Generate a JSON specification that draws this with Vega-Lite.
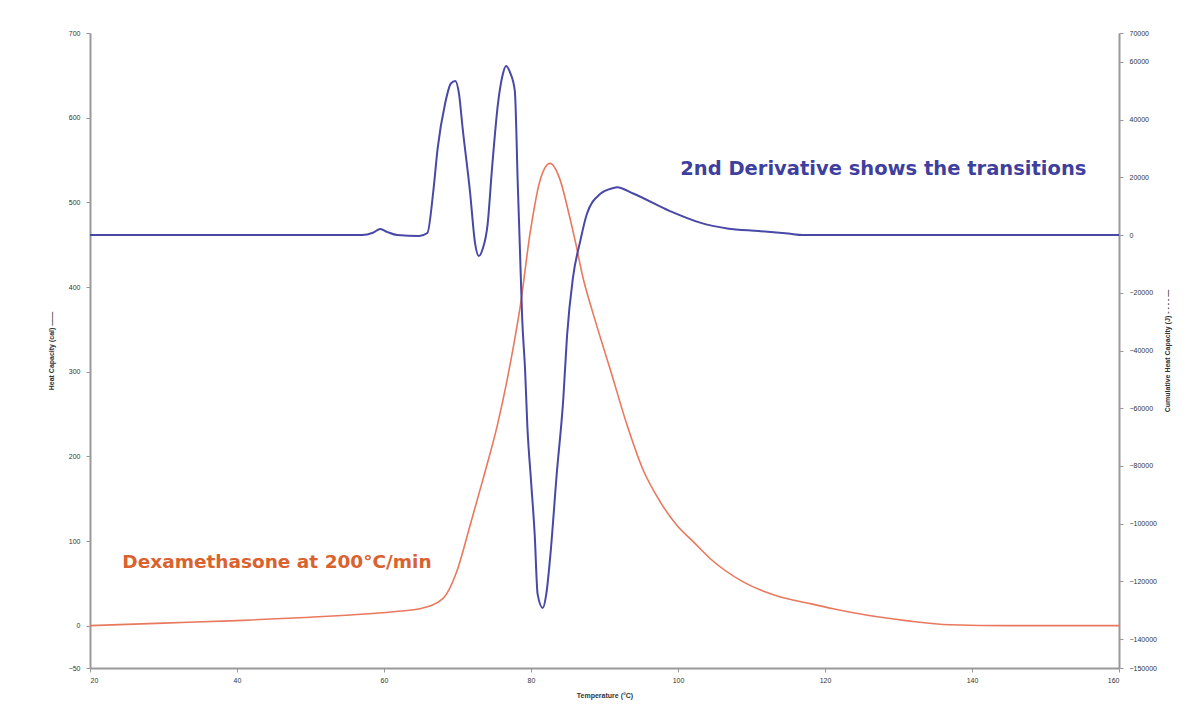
{
  "$schema": "https://vega.github.io/schema/vega-lite/v6.json",
  "width": 1029,
  "height": 635,
  "autosize": {"type": "none"},
  "padding": {"left": 90, "top": 33, "right": 82, "bottom": 43},
  "background": "white",
  "config": {
    "font": "Liberation Sans",
    "view": {"stroke": null},
    "axis": {
      "grid": false,
      "labelFontSize": 7,
      "labelColor": "#333333",
      "domainColor": "#999999",
      "domainWidth": 2,
      "tickColor": "#999999",
      "tickSize": 4,
      "titleFontSize": 7,
      "titleFontWeight": "bold",
      "titleColor": "#333333"
    }
  },
  "datasets": {
    "heat": [
      {"t": 20, "v": 0}, {"t": 30, "v": 3}, {"t": 40, "v": 6}, {"t": 50, "v": 10},
      {"t": 58, "v": 14}, {"t": 62, "v": 17}, {"t": 64.9, "v": 20}, {"t": 68.0, "v": 32},
      {"t": 69.9, "v": 64}, {"t": 71.7, "v": 118}, {"t": 73.5, "v": 174}, {"t": 75.4, "v": 236},
      {"t": 76.7, "v": 288}, {"t": 77.8, "v": 339}, {"t": 78.5, "v": 375}, {"t": 79.9, "v": 465},
      {"t": 81.2, "v": 525}, {"t": 82.6, "v": 546}, {"t": 83.9, "v": 528}, {"t": 85.2, "v": 485},
      {"t": 86.0, "v": 455}, {"t": 87.1, "v": 410}, {"t": 88.4, "v": 370}, {"t": 89.8, "v": 330},
      {"t": 90.7, "v": 305}, {"t": 93.1, "v": 236},
      {"t": 95.2, "v": 185}, {"t": 97.6, "v": 146}, {"t": 99.9, "v": 118}, {"t": 102.1, "v": 99},
      {"t": 104.4, "v": 79}, {"t": 108.8, "v": 52}, {"t": 113.5, "v": 35}, {"t": 118.0, "v": 26},
      {"t": 121.1, "v": 20}, {"t": 126, "v": 12}, {"t": 131, "v": 6}, {"t": 137, "v": 1},
      {"t": 145, "v": 0}, {"t": 160, "v": 0}
    ],
    "deriv": [
      {"t": 20, "d": 0}, {"t": 40, "d": 0}, {"t": 57, "d": 0}, {"t": 58.5, "d": 800},
      {"t": 59.5, "d": 2100}, {"t": 60.5, "d": 1000}, {"t": 61.8, "d": 0}, {"t": 64.8, "d": -300},
      {"t": 65.9, "d": 700}, {"t": 66.7, "d": 15000}, {"t": 67.3, "d": 30000}, {"t": 68.3, "d": 45400},
      {"t": 69.1, "d": 52500}, {"t": 69.7, "d": 53400}, {"t": 70.2, "d": 49000}, {"t": 70.7, "d": 37000},
      {"t": 71.7, "d": 15000}, {"t": 72.4, "d": -3000}, {"t": 72.9, "d": -7300}, {"t": 73.4, "d": -5000},
      {"t": 74.1, "d": 3800}, {"t": 74.7, "d": 23200}, {"t": 75.5, "d": 45400}, {"t": 76.1, "d": 55000},
      {"t": 76.6, "d": 58600}, {"t": 77.2, "d": 56000}, {"t": 77.8, "d": 49900}, {"t": 78.2, "d": 17700},
      {"t": 78.5, "d": -5500}, {"t": 78.8, "d": -28800}, {"t": 79.2, "d": -47000}, {"t": 79.5, "d": -66000},
      {"t": 80.0, "d": -85000}, {"t": 80.5, "d": -103600}, {"t": 80.9, "d": -124400}, {"t": 81.6, "d": -129200},
      {"t": 82.1, "d": -124000}, {"t": 82.6, "d": -111900}, {"t": 83.5, "d": -82800}, {"t": 84.4, "d": -56500},
      {"t": 84.9, "d": -35000}, {"t": 85.7, "d": -14900}, {"t": 86.7, "d": -2100}, {"t": 87.6, "d": 7300},
      {"t": 89.4, "d": 14200}, {"t": 91.2, "d": 16300}, {"t": 91.7, "d": 16600}, {"t": 93.9, "d": 14400},
      {"t": 98.9, "d": 8300}, {"t": 103, "d": 4300}, {"t": 106.7, "d": 2300}, {"t": 111, "d": 1400},
      {"t": 115, "d": 500}, {"t": 117, "d": 0}, {"t": 160, "d": 0}
    ],
    "noteHeat": [{"t": 24.4, "v": 75, "label": "Dexamethasone at 200°C/min"}],
    "noteDeriv": [{"t": 100.3, "d": 22800, "label": "2nd Derivative shows the transitions"}]
  },
  "layer": [
    {
      "layer": [
        {
          "data": {"name": "heat"},
          "mark": {"type": "line", "color": "#e8795e", "strokeWidth": 1.6, "interpolate": "monotone"},
          "encoding": {
            "x": {"field": "t", "type": "quantitative", "scale": {"domain": [20, 160], "nice": false},
                  "axis": {"values": [20, 40, 60, 80, 100, 120, 140, 160], "title": "Temperature (°C)", "titlePadding": 8, "labelPadding": 4}},
            "y": {"field": "v", "type": "quantitative", "scale": {"domain": [-50, 700], "nice": false, "zero": false},
                  "axis": {"orient": "left", "values": [-50, 0, 100, 200, 300, 400, 500, 600, 700], "title": "Heat Capacity (cal) ——", "titlePadding": 14, "labelPadding": 6}}
          }
        },
        {
          "data": {"name": "noteHeat"},
          "mark": {"type": "text", "align": "left", "baseline": "middle", "font": "DejaVu Sans", "fontSize": 18.5, "fontWeight": "bold", "color": "#d9622e"},
          "encoding": {
            "x": {"field": "t", "type": "quantitative"},
            "y": {"field": "v", "type": "quantitative"},
            "text": {"field": "label"}
          }
        }
      ]
    },
    {
      "layer": [
        {
          "data": {"name": "deriv"},
          "mark": {"type": "line", "color": "#4848a6", "strokeWidth": 2, "interpolate": "monotone"},
          "encoding": {
            "x": {"field": "t", "type": "quantitative"},
            "y": {"field": "d", "type": "quantitative", "scale": {"domain": [-150000, 70000], "nice": false, "zero": false},
                  "axis": {"orient": "right", "format": "d", "labelColor": "#333333", "values": [-150000, -140000, -120000, -100000, -80000, -60000, -40000, -20000, 0, 20000, 40000, 60000, 70000], "title": "Cumulative Heat Capacity (J) - - - - —", "titleAngle": 270, "titlePadding": 14, "labelPadding": 6}}
          }
        },
        {
          "data": {"name": "noteDeriv"},
          "mark": {"type": "text", "align": "left", "baseline": "middle", "font": "DejaVu Sans", "fontSize": 19.5, "fontWeight": "bold", "color": "#3f3f9e"},
          "encoding": {
            "x": {"field": "t", "type": "quantitative"},
            "y": {"field": "d", "type": "quantitative"},
            "text": {"field": "label"}
          }
        }
      ]
    }
  ],
  "resolve": {"scale": {"y": "independent"}}
}
